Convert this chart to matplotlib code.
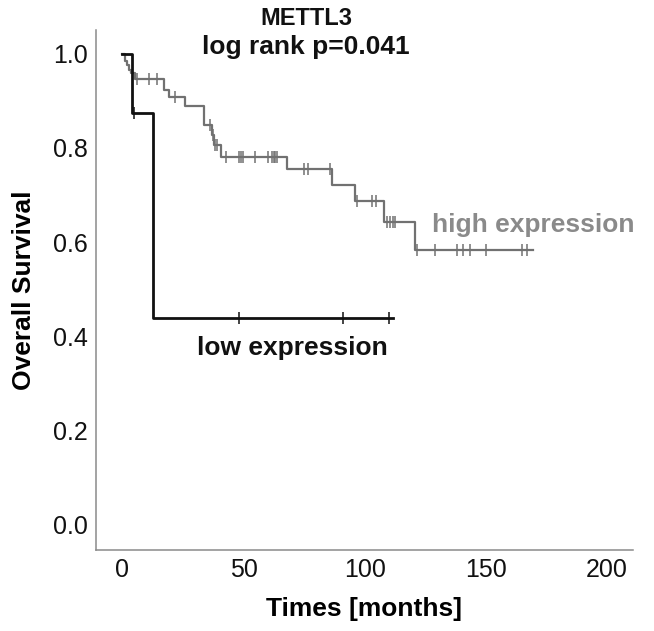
import matplotlib
matplotlib.use("Agg")
import matplotlib.pyplot as plt
import numpy as np

# ---- data ----
low_times = [0, 4.1, 12.5]
low_surv = [1.0, 0.875, 0.4375]
low_end = 111.7
low_censor = [5, 48, 91, 110]

high_times = [0, 0.95, 1.9, 2.6, 3.7, 5.4, 17, 19.1, 26, 33.9, 37, 37.7, 40.8,
              68, 86.7, 96.1, 108.2, 120.8]
high_surv = [1.0, 0.986, 0.977, 0.966, 0.959, 0.946, 0.923, 0.909, 0.889, 0.849,
             0.828, 0.806, 0.781, 0.755, 0.721, 0.687, 0.643, 0.584]
high_end = 169.6
high_censor = [6, 10.9, 14.3, 21.9, 36.3, 37.3, 38.2, 39, 42.9, 48, 49, 50, 54.8,
               60.3, 61.7, 62.4, 63.1, 63.8, 75, 76.8, 85.8, 96.8, 103, 104.7,
               109.1, 110.5, 111.6, 112.6, 121.5, 129.1, 138, 140.7, 143.5, 150,
               164.8, 166.9]

x_ticks = [0, 50, 100, 150, 200]
y_ticks = [0.0, 0.2, 0.4, 0.6, 0.8, 1.0]

title1 = "METTL3"
title2 = "log rank p=0.041"
xlabel = "Times [months]"
ylabel = "Overall Survival"
high_label = "high expression"
low_label = "low expression"

plt.rcParams['font.family'] = ['Liberation Sans', 'DejaVu Sans']

fig = plt.figure(figsize=(6.54, 6.31), dpi=100)
ax = fig.add_axes([0.1463, 0.1284, 0.968 - 0.1463, 0.9525 - 0.1284])

high_col = '#717171'
low_col = '#111111'


def step_val(times, surv, t):
    idx = np.searchsorted(times, t, side='right') - 1
    return surv[idx]


# high curve
ht = list(high_times) + [high_end]
hs = list(high_surv) + [high_surv[-1]]
ax.step(ht, hs, where='post', color=high_col, lw=1.6, zorder=2)
ax.plot(high_censor, [step_val(high_times, high_surv, t) for t in high_censor],
        ls='none', marker='|', ms=8, mew=1.1, color=high_col, zorder=2)

# low curve
lt = list(low_times) + [low_end]
ls_ = list(low_surv) + [low_surv[-1]]
ax.step(lt, ls_, where='post', color=low_col, lw=2.0, zorder=3)
ax.plot(low_censor, [step_val(low_times, low_surv, t) for t in low_censor],
        ls='none', marker='|', ms=8, mew=1.1, color=low_col, zorder=3)

ax.set_xlim(-11, 210.8)
ax.set_ylim(-0.055, 1.051)
ax.set_xticks(x_ticks)
ax.set_yticks(y_ticks)
ax.set_yticklabels([f"{v:.1f}" for v in y_ticks])
ax.tick_params(length=0, labelsize=18, colors='#111111')
ax.tick_params(axis='y', pad=5.5)
ax.tick_params(axis='x', pad=6)
for s in ['top', 'right']:
    ax.spines[s].set_visible(False)
for s in ['left', 'bottom']:
    ax.spines[s].set_color('#8a8a8a')
    ax.spines[s].set_linewidth(1.1)

ax.set_xlabel(xlabel, fontsize=19, fontweight='bold', labelpad=10.5)
ax.set_ylabel(ylabel, fontsize=19, fontweight='bold', labelpad=12)

ax.text(127.8, 0.636, high_label, color='#8a8a8a', fontsize=19,
        fontweight='bold', ha='left', va='center')
ax.text(30.9, 0.374, low_label, color='#111111', fontsize=19,
        fontweight='bold', ha='left', va='center')

fig.text(0.468, 0.971, title1, ha='center', va='center', fontsize=17,
         fontweight='bold', color='#111111')
fig.text(0.468, 0.926, title2, ha='center', va='center', fontsize=19,
         fontweight='bold', color='#111111')

fig.savefig("out.png", dpi=100)
